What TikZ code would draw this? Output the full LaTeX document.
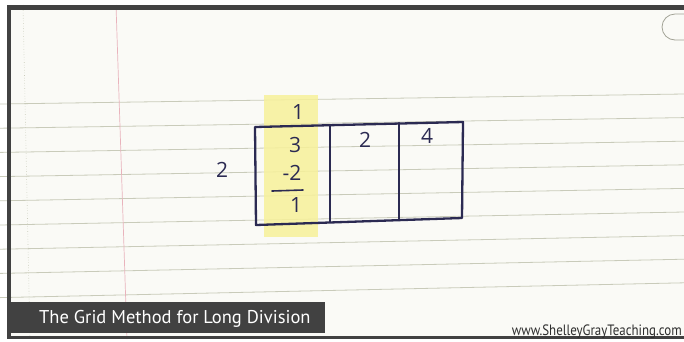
\documentclass[tikz,border=0pt]{standalone}
\usepackage{fontspec}
\setmainfont{Liberation Sans}
\newfontfamily\titlefont{PT Sans}
\newfontfamily\urlfont[FakeStretch=0.86]{PT Sans}
\newfontfamily\hand{Open Sans}
\definecolor{paper}{HTML}{FAFAF6}
\definecolor{ruled}{HTML}{C9CBBA}
\definecolor{margin}{HTML}{E9B3BC}
\definecolor{frame}{HTML}{414141}
\definecolor{ink}{HTML}{2B2A52}
\definecolor{hilite}{HTML}{F7F19A}
\definecolor{urlcol}{HTML}{2E2E2E}
\tikzset{
  rule/.style={draw=ruled, line width=0.8pt},
  gridline/.style={draw=ink, line width=2.3pt, line cap=round, line join=round},
  digit/.style={text=ink, font=\hand\fontsize{21}{21}\selectfont, inner sep=0pt},
}
\begin{document}
\begin{tikzpicture}[x=1pt,y=-1pt]
\useasboundingbox (0,0) rectangle (684,341);
\fill[white] (0,0) rectangle (684,341);
\fill[paper] (7,5) rectangle (684,339);
% ruled lines
\foreach \i in {0,...,8} {
  \draw[rule] (0,{104+24.2*\i}) -- (684,{94+23.6*\i});
}
% faint dotted vertical at left
\draw[ruled, dotted, line width=0.6pt] (23,5) -- (30,339);
% red margin line
\draw[margin, line width=0.7pt] (116,5) -- (127,339);
% highlight
\fill[hilite, opacity=0.85] (264,95) rectangle (318,237);
% grid
\coordinate (tl) at (255,127);
\coordinate (tr) at (463,122);
\coordinate (br) at (462,218);
\coordinate (bl) at (256,225);
\coordinate (d1t) at (330,125);
\coordinate (d1b) at (330,222);
\coordinate (d2t) at (399,123);
\coordinate (d2b) at (399,220);
\draw[gridline] (tl) -- (tr) -- (br) -- (bl) -- cycle;
\draw[gridline] (d1t) -- (d1b);
\draw[gridline] (d2t) -- (d2b);
% digits
\node[digit] (q) at (298,112) {1};
\node[digit] (three) at (295,145) {3};
\node[digit] (minus) at (292,173) {-2};
\coordinate (ul) at (272,191);
\coordinate (ur) at (303,190);
\draw[draw=ink, line width=1.6pt, line cap=round] (ul) -- (ur);
\node[digit] (rem) at (296,205) {1};
\node[digit] (div) at (222,170) {2};
\node[digit] (two) at (365,140) {2};
\node[digit] (four) at (427,136) {4};
% frame
\fill[frame] (7,5) rectangle (684,9.5);
\fill[frame] (7,5) rectangle (11,339);
\fill[frame] (7,336) rectangle (684,339);
% top-right rounded tab
\draw[draw=ruled!80!black, line width=0.8pt, rounded corners=13pt] (700,14) -- (662,14) -- (662,40) -- (700,40);
% title
\fill[frame] (8,302) rectangle (325,333);
\node[anchor=base west, inner sep=0pt, text=white, font=\titlefont\fontsize{18.5}{18.5}\selectfont] (title) at (39,323) {The Grid Method for Long Division};
\node[anchor=base east, inner sep=0pt, text=urlcol, font=\urlfont\fontsize{15}{15}\selectfont] (url) at (682,335) {www.ShelleyGrayTeaching.com};
\end{tikzpicture}
\end{document}
